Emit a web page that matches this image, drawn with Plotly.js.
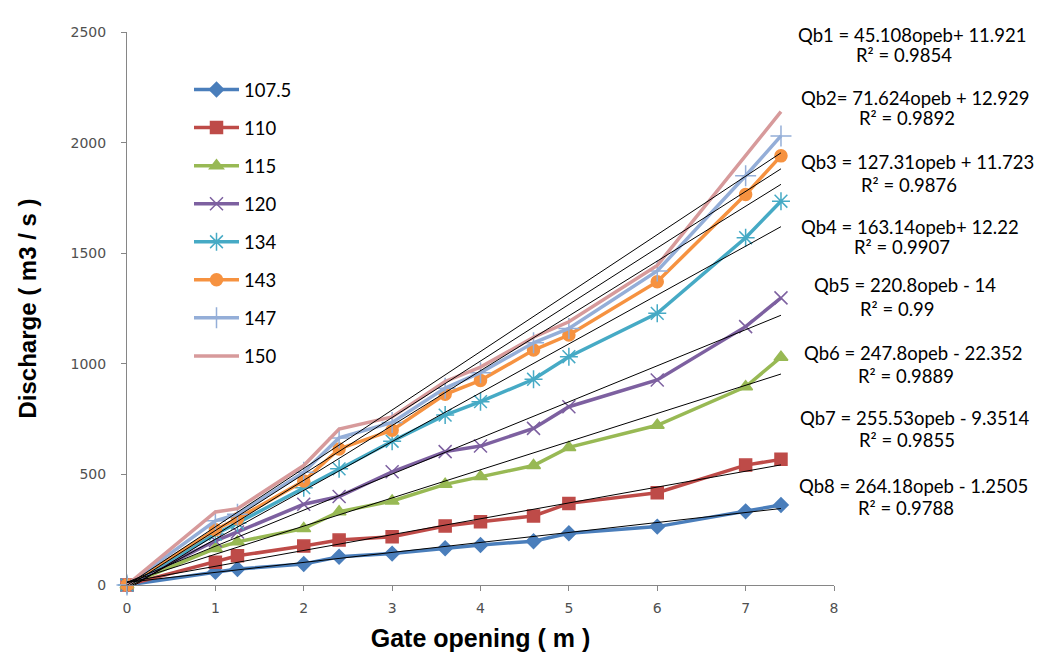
<!DOCTYPE html>
<html>
<head>
<meta charset="utf-8">
<script src="https://cdn.plot.ly/plotly-3.0.1.min.js"></script>
<style>html,body{margin:0;padding:0;background:#fff;}#chart{width:1039px;height:661px;}</style>
</head>
<body>
<div id="chart"></div>
<script>
// Gate opening (m)
var gateOpening = [0, 1, 1.25, 2, 2.4, 3, 3.6, 4, 4.6, 5, 6, 7, 7.4];
// Discharge (m3/s) per series
var seriesNames = ["107.5", "110", "115", "120", "134", "143", "147", "150"];
var q107_5 = [0, 60, 72, 95, 128, 142, 166, 181, 198, 234, 264, 333, 362];
var q110   = [0, 103, 132, 176, 203, 218, 267, 286, 312, 369, 417, 542, 568];
var q115   = [0, 165, 195, 255, 331, 380, 455, 490, 540, 622, 722, 896, 1030];
var q120   = [0, 200, 240, 365, 400, 512, 603, 628, 708, 806, 927, 1168, 1298];
var q134   = [0, 230, 280, 440, 525, 650, 768, 829, 930, 1032, 1228, 1570, 1735];
var q143   = [0, 250, 300, 470, 615, 700, 862, 925, 1062, 1130, 1371, 1765, 1940];
var q147   = [0, 290, 320, 510, 665, 735, 890, 960, 1095, 1160, 1420, 1850, 2030];
var q150   = [0, 330, 345, 540, 705, 760, 920, 985, 1120, 1190, 1445, 1945, 2140];
// Linear trendlines as printed on the chart
var trendSlopes = [45.108, 71.624, 127.31, 163.14, 220.8, 247.8, 255.53, 264.18];
var trendIntercepts = [11.921, 12.929, 11.723, 12.22, -14, -22.352, -9.3514, -1.2505];
var trendX = [0, 7.4];
var eqLines = [
  "Qb1 = 45.108opeb+ 11.921", "Qb2= 71.624opeb + 12.929", "Qb3 = 127.31opeb + 11.723",
  "Qb4 = 163.14opeb+ 12.22", "Qb5 = 220.8opeb - 14", "Qb6 = 247.8opeb - 22.352",
  "Qb7 = 255.53opeb - 9.3514", "Qb8 = 264.18opeb - 1.2505"
];
var r2Lines = ["R² = 0.9854", "R² = 0.9892", "R² = 0.9876", "R² = 0.9907", "R² = 0.99", "R² = 0.9889", "R² = 0.9855", "R² = 0.9788"];

var seriesData = [q107_5, q110, q115, q120, q134, q143, q147, q150];
var colors = ["#4A7EBB", "#BE4B48", "#98B954", "#7D60A0", "#46AAC5", "#F69240", "#94AED8", "#D79A9B"];
var symbols = ["diamond", "square", "triangle-up", "x-thin-open", "asterisk-open", "circle", "cross-thin-open", "none"];
var sizes = [11, 12, 12, 13, 15, 12, 15, 0];

var traces = [];
for (var i = 0; i < seriesData.length; i++) {
  traces.push({
    x: gateOpening, y: seriesData[i], name: seriesNames[i], type: "scatter",
    mode: symbols[i] === "none" ? "lines" : "lines+markers",
    line: {color: colors[i], width: 3.5},
    marker: {symbol: symbols[i], size: sizes[i], color: colors[i], line: {color: colors[i], width: 1.5}},
    legendgroup: "g" + i, cliponaxis: false
  });
}
for (var j = 0; j < trendSlopes.length; j++) {
  var ty = trendX.map(function (xv) { return trendSlopes[j] * xv + trendIntercepts[j]; });
  traces.push({x: trendX, y: ty, type: "scatter", mode: "lines", line: {color: "#000", width: 1},
    showlegend: false, hoverinfo: "skip", cliponaxis: false});
}

var eqCenterX = [912, 915, 917, 910, 905, 914, 915, 914];
var eqY = [35, 98, 162, 227, 285, 353, 418, 486];
var r2Y = [55, 118, 185, 247, 309, 376, 440, 508];
var annFont = {family: "Lato, 'Noto Sans', sans-serif", size: 18.5, color: "#000"};
function px(x) { return (x - 127) / 707; }
function py(y) { return (585 - y) / 553; }
var annotations = [];
for (var k = 0; k < eqLines.length; k++) {
  annotations.push({xref: "paper", yref: "paper", x: px(eqCenterX[k]), y: py(eqY[k]), text: eqLines[k],
    showarrow: false, xanchor: "center", yanchor: "middle", font: annFont});
  annotations.push({xref: "paper", yref: "paper", x: px(eqCenterX[k] - 8), y: py(r2Y[k]), text: r2Lines[k],
    showarrow: false, xanchor: "center", yanchor: "middle", font: annFont});
}

var tickFont = {family: "'DejaVu Sans', Verdana, sans-serif", size: 14, color: "#505050"};
var layout = {
  width: 1039, height: 661,
  margin: {l: 127, r: 205, t: 32, b: 76},
  paper_bgcolor: "#fff", plot_bgcolor: "#fff",
  showlegend: true,
  legend: {x: px(189), y: py(71), xanchor: "left", yanchor: "top", font: annFont,
    traceorder: "grouped", tracegroupgap: 11, itemwidth: 45, bgcolor: "rgba(0,0,0,0)"},
  xaxis: {range: [0, 8], dtick: 1, tick0: 0, showgrid: false, zeroline: false, showline: true,
    linecolor: "#868686", linewidth: 1, ticks: "outside", ticklen: 5, tickcolor: "#868686",
    ticklabelstandoff: 5,
    tickfont: tickFont, title: {text: "<b>Gate opening ( m )</b>", font: {family: "'Liberation Sans', Arial, sans-serif", size: 25, color: "#000"}, standoff: 14}},
  yaxis: {range: [0, 2500], dtick: 500, tick0: 0, showgrid: false, zeroline: false, showline: true,
    linecolor: "#868686", linewidth: 1, ticks: "outside", ticklen: 5, tickcolor: "#868686",
    ticklabelstandoff: 12,
    tickfont: tickFont, title: {text: "<b>Discharge ( m3 / s )</b>", font: {family: "'Liberation Sans', Arial, sans-serif", size: 24, color: "#000"}, standoff: 27}},
  annotations: annotations
};
Plotly.newPlot("chart", traces, layout, {displayModeBar: false, staticPlot: true});
</script>
</body>
</html>
